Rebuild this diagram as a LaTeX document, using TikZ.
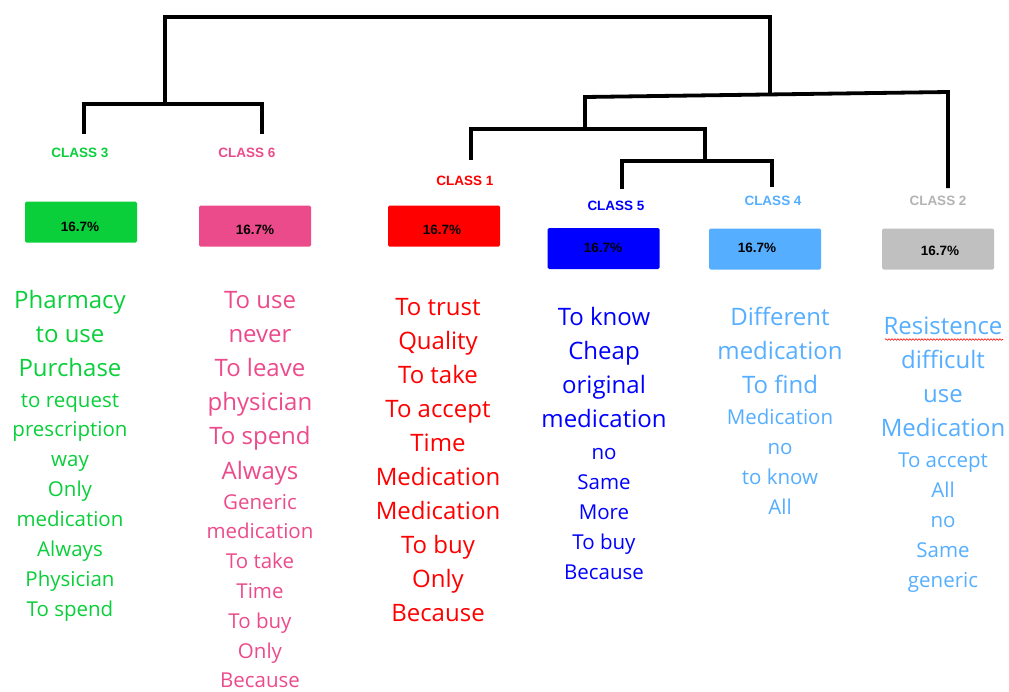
\documentclass[tikz,border=0pt]{standalone}
\usepackage{fontspec}
\setmainfont{Open Sans}
\newfontfamily\labelfont{Liberation Sans}
\usetikzlibrary{decorations.pathmorphing}
\definecolor{cgreen}{HTML}{0ACF3B}
\definecolor{cpink}{HTML}{EC4B8B}
\definecolor{cred}{HTML}{FF0000}
\definecolor{cblue}{HTML}{0000FF}
\definecolor{clight}{HTML}{55AEFF}
\definecolor{cgray}{HTML}{C0C0C0}
\definecolor{cgraytext}{HTML}{B3B3B3}
\begin{document}
\begin{tikzpicture}[x=1pt,y=-1pt,
    dend/.style={line width=3.8pt},
    classlabel/.style={font=\labelfont\bfseries\fontsize{13.5}{15}\selectfont},
    pctbox/.style={rounded corners=1.5pt, minimum width=112pt, minimum height=41pt, inner sep=0pt},
    pct/.style={font=\labelfont\bfseries\fontsize{13.5}{15}\selectfont, text=black},
    bigword/.style={anchor=base, inner sep=0pt, font=\fontsize{24}{28}\selectfont},
    smallword/.style={anchor=base, inner sep=0pt, font=\fontsize{20.5}{24}\selectfont}]
  \useasboundingbox (0,0) rectangle (1009,691);

  % dendrogram
  \coordinate (leaf3) at (84,134);
  \coordinate (leaf6) at (262,134);
  \coordinate (j36) at (165,104);
  \coordinate (leaf1) at (471,160);
  \coordinate (leaf5) at (622,189);
  \coordinate (leaf4) at (772,187);
  \coordinate (leaf2) at (948,188);
  \coordinate (j54) at (705,161);
  \coordinate (j154) at (585,129);
  \coordinate (rbarL) at (585,97);
  \coordinate (rbarR) at (948,92);
  \coordinate (jright) at (770,94);
  \coordinate (root) at (468,17);
  \draw[dend] (leaf3) |- (j36) -| (leaf6);
  \draw[dend] (j36) |- (root) -| (jright);
  \draw[dend] (leaf5) |- (j54) -| (leaf4);
  \draw[dend] (leaf1) |- (j154) -| (j54);
  \draw[dend] (j154) -- (rbarL) -- (rbarR) -- (leaf2);

  % class labels
  \node[classlabel, text=cgreen] (lab3) at (80,153) {CLASS 3};
  \node[classlabel, text=cpink] (lab6) at (247,153) {CLASS 6};
  \node[classlabel, text=cred] (lab1) at (465,181) {CLASS 1};
  \node[classlabel, text=cblue] (lab5) at (616,206) {CLASS 5};
  \node[classlabel, text=clight] (lab4) at (773,201) {CLASS 4};
  \node[classlabel, text=cgraytext] (lab2) at (938,201) {CLASS 2};

  % boxes
  \node[pctbox, fill=cgreen] (box3) at (81,222) {};
  \node[pct] (pct3) at (80,227) {16.7\%};
  \node[pctbox, fill=cpink] (box6) at (255,226) {};
  \node[pct] (pct6) at (255,230) {16.7\%};
  \node[pctbox, fill=cred] (box1) at (444,226) {};
  \node[pct] (pct1) at (442,230) {16.7\%};
  \node[pctbox, fill=cblue] (box5) at (603.5,248.5) {};
  \node[pct] (pct5) at (603,248) {16.7\%};
  \node[pctbox, fill=clight] (box4) at (765,249) {};
  \node[pct] (pct4) at (757,248) {16.7\%};
  \node[pctbox, fill=cgray] (box2) at (938,249) {};
  \node[pct] (pct2) at (940,251) {16.7\%};

  % word lists
  \foreach \t [count=\i] in {Pharmacy, to use, Purchase}
    \node[bigword, text=cgreen] (c3a\i) at ({70}, {308+34*(\i-1)}) {\t};
  \foreach \t [count=\i] in {to request, prescription, way, Only, medication, Always, Physician, To spend}
    \node[smallword, text=cgreen] (c3b\i) at ({70}, {407+29.9*(\i-1)}) {\t};

  \foreach \t [count=\i] in {To use, never, To leave, physician, To spend, Always}
    \node[bigword, text=cpink] (c6a\i) at ({260}, {308+34.2*(\i-1)}) {\t};
  \foreach \t [count=\i] in {Generic, medication, To take, Time, To buy, Only, Because}
    \node[smallword, text=cpink] (c6b\i) at ({260}, {509+29.8*(\i-1)}) {\t};

  \foreach \t [count=\i] in {To trust, Quality, To take, To accept, Time, Medication, Medication, To buy, Only, Because}
    \node[bigword, text=cred] (c1a\i) at ({438}, {315+34.1*(\i-1)}) {\t};

  \foreach \t [count=\i] in {To know, Cheap, original, medication}
    \node[bigword, text=cblue] (c5a\i) at ({604}, {325+34*(\i-1)}) {\t};
  \foreach \t [count=\i] in {no, Same, More, To buy, Because}
    \node[smallword, text=cblue] (c5b\i) at ({604}, {459+30*(\i-1)}) {\t};

  \foreach \t [count=\i] in {Different, medication, To find}
    \node[bigword, text=clight] (c4a\i) at ({780}, {325+34*(\i-1)}) {\t};
  \foreach \t [count=\i] in {Medication, no, to know, All}
    \node[smallword, text=clight] (c4b\i) at ({780}, {424+30*(\i-1)}) {\t};

  \foreach \t [count=\i] in {Resistence, difficult, use, Medication}
    \node[bigword, text=clight] (c2a\i) at ({943}, {334+34*(\i-1)}) {\t};
  \foreach \t [count=\i] in {To accept, All, no, Same, generic}
    \node[smallword, text=clight] (c2b\i) at ({943}, {467+30*(\i-1)}) {\t};

  \coordinate (sqA) at (885,339.5);
  \coordinate (sqB) at (1003,339.5);
  \draw[red, line width=0.6pt, decorate, decoration={snake, amplitude=0.8pt, segment length=3pt}] (sqA) -- (sqB);
\end{tikzpicture}
\end{document}
